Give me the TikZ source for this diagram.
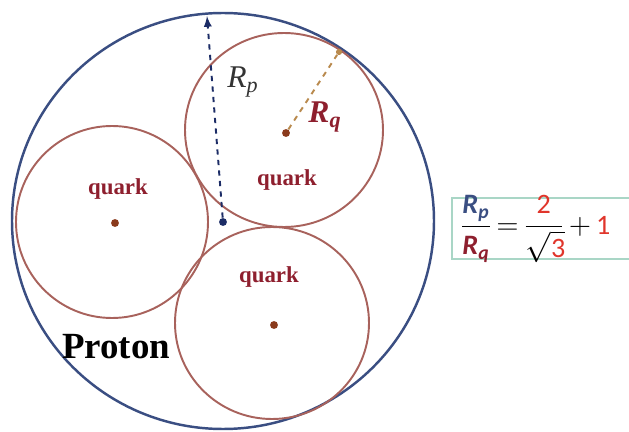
\documentclass[tikz,border=0pt]{standalone}
\usepackage{fontspec}
\usepackage{amsmath}
\setmainfont{Liberation Serif}
\newfontfamily\calib{Carlito}
\definecolor{protonblue}{HTML}{3A4E82}
\definecolor{quarkline}{HTML}{A8625C}
\definecolor{quarkred}{HTML}{8E1F2E}
\definecolor{dotbrown}{HTML}{8A3A1C}
\definecolor{navy}{HTML}{1C2C66}
\definecolor{tan}{HTML}{B98A4E}
\definecolor{boxteal}{HTML}{A9D6C6}
\definecolor{numred}{HTML}{E0352B}
\newcommand{\rtxt}[2]{\text{\calib\bfseries\itshape\color{#1}#2}}
\newcommand{\ntxt}[1]{\text{\calib\color{numred}#1}}
\tikzset{
  quarkcircle/.style={quarkline, line width=1.1pt},
  quarktext/.style={text=quarkred, font=\fontsize{13}{15}\selectfont\bfseries},
  dot/.style={circle, fill=#1, inner sep=0pt, minimum size=4.5pt},
}
\begin{document}
\begin{tikzpicture}[x=0.02cm,y=-0.02cm]
\useasboundingbox (0,0) rectangle (629,432);
\clip (0,0) rectangle (629,432);
% proton and quarks
\draw[protonblue, line width=1.4pt] (223,221) circle [x radius=211, y radius=208];
\draw[quarkcircle] (284,130) circle [x radius=99, y radius=97];
\draw[quarkcircle] (112,222) circle [x radius=96, y radius=96];
\draw[quarkcircle] (272,323) circle [x radius=97, y radius=96];
\node[dot=navy] (c) at (223,222) {};
\node[dot=dotbrown] (q1) at (286,133) {};
\node[dot=dotbrown] (q2) at (115,223) {};
\node[dot=dotbrown] (q3) at (274,325) {};
\coordinate (rp) at (207,16);
\node[dot=tan, minimum size=3.5pt] (rq) at (339,52) {};
\draw[->, >=latex, navy, dashed, line width=1.1pt] (c) -- (rp);
\draw[tan, dashed, line width=1.1pt] (q1) -- (rq);
% labels
\node[quarktext] (t1) at (287,180) {quark};
\node[quarktext] (t2) at (118,189) {quark};
\node[quarktext] (t3) at (269,277) {quark};
\node[font=\fontsize{21}{24}\selectfont\bfseries] (proton) at (116,347) {Proton};
\node[text=black!80, font=\fontsize{18}{21}\selectfont\itshape] (lrp) at (243,82) {R$_{\textit{p}}$};
\node[text=quarkred, font=\fontsize{18}{21}\selectfont\bfseries\itshape] (lrq) at (325,117) {R$_{\textbf{\textit{q}}}$};
% ratio
\draw[boxteal, line width=0.9pt] (640,198) -- (452,198) -- (452,259) -- (640,259);
\node[font=\fontsize{16}{19}\selectfont\calib, anchor=west, inner sep=0pt] (ratio) at (460,229)
  {$\dfrac{\rtxt{protonblue}{R}_{\rtxt{protonblue}{p}}}{\rtxt{quarkred}{R}_{\rtxt{quarkred}{q}}}
   \mkern-2mu=\mkern-2mu\dfrac{\ntxt{2}}{\sqrt{\ntxt{3}}\mkern-2mu}
   \mkern-1mu+\mkern-1mu\ntxt{1}$};
\end{tikzpicture}
\end{document}
